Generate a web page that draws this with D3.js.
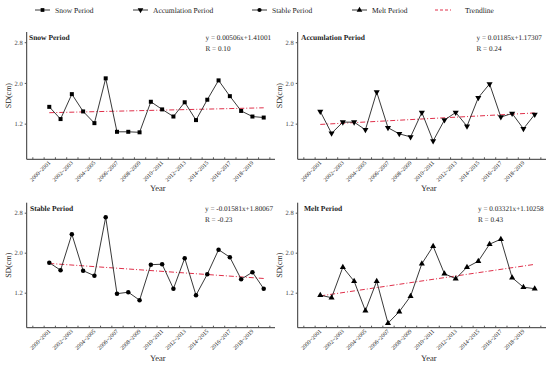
<!DOCTYPE html>
<html>
<head>
<meta charset="utf-8">
<script src="https://cdn.jsdelivr.net/npm/d3@7"></script>
<style>
  body { margin: 0; background: #fff; }
  svg text { font-family: "Liberation Serif", "Times New Roman", serif; fill: #222; text-rendering: geometricPrecision; }
  .tick text { fill: #444; }
  .title { font-weight: bold; }
</style>
</head>
<body>
<svg width="550" height="367"></svg>
<script>
// season labels, one per point (x = 1..20)
var years = ["2000~2001","2001~2002","2002~2003","2003~2004","2004~2005","2005~2006","2006~2007",
  "2007~2008","2008~2009","2009~2010","2010~2011","2011~2012","2012~2013","2013~2014",
  "2014~2015","2015~2016","2016~2017","2017~2018","2018~2019","2019~2020"];

var snow = [1.53,1.29,1.78,1.44,1.21,2.09,1.04,1.04,1.03,1.63,1.48,1.34,1.62,1.27,1.67,2.05,1.74,1.45,1.34,1.32];
var accum = [1.44,1.01,1.23,1.23,1.08,1.82,1.12,1.00,0.94,1.42,0.86,1.27,1.42,1.15,1.71,1.98,1.33,1.40,1.10,1.38];
var stable = [1.80,1.65,2.37,1.64,1.54,2.71,1.18,1.21,1.05,1.76,1.77,1.28,1.89,1.15,1.57,2.06,1.91,1.47,1.61,1.28];
var melt = [1.15,1.10,1.71,1.43,0.84,1.43,0.59,0.82,1.13,1.78,2.13,1.58,1.48,1.71,1.83,2.17,2.27,1.50,1.31,1.28];

var names = ["Snow Period", "Accumlation Period", "Stable Period", "Melt Period"];
var slopes = [0.00506, 0.01185, -0.01581, 0.03321];
var intercepts = [1.41001, 1.17307, 1.80067, 1.10258];
var equations = ["y = 0.00506x+1.41001", "y = 0.01185x+1.17307", "y = -0.01581x+1.80067", "y = 0.03321x+1.10258"];
var rLabels = ["R = 0.10", "R = 0.24", "R = -0.23", "R = 0.43"];
var yTicks = [1.2, 2.0, 2.8];

var series = [snow, accum, stable, melt];
var symbols = [d3.symbolSquare, d3.symbolTriangle, d3.symbolCircle, d3.symbolTriangle];
var symRot = [0, 180, 0, 0];

var svg = d3.select("svg");
var red = "#e0304a";

// panel boxes: axis positions, year label baseline, text offsets
var panels = [
  {x0: 26.7, x1: 275, y0: 32, y1: 159.3, yLab: 191, tx: 29, ex: 205.5},
  {x0: 297.7, x1: 546, y0: 32, y1: 159.3, yLab: 191, tx: 301, ex: 476.5},
  {x0: 26.7, x1: 275, y0: 202.7, y1: 327.7, yLab: 361, tx: 30, ex: 205},
  {x0: 297.7, x1: 546, y0: 202.7, y1: 327.7, yLab: 361, tx: 304, ex: 478}
];

panels.forEach(function(p, k) {
  var x = d3.scaleLinear().domain([-1, 21]).range([p.x0, p.x1]);
  var y = d3.scaleLinear().domain([0.5, 3.0]).range([p.y1, p.y0]);
  var g = svg.append("g");

  // y axis
  var ya = g.append("g").attr("transform", "translate(" + p.x0 + ",0)")
    .call(d3.axisLeft(y).tickValues(yTicks).tickFormat(d3.format(".1f")).tickSize(2).tickPadding(2));
  ya.select(".domain").attr("d", "M0," + p.y1 + "V" + p.y0).attr("stroke", "#333");
  ya.selectAll("text").attr("font-size", 6.5);
  ya.selectAll("line").attr("stroke", "#555");

  // x axis: ticks at band edges, labels every other season
  var edges = d3.range(-0.5, 21, 1);
  var xa = g.append("g").attr("transform", "translate(0," + p.y1 + ")")
    .call(d3.axisBottom(x).tickValues(edges).tickSize(-2).tickFormat(""));
  xa.select(".domain").attr("d", "M" + p.x0 + ",0H" + p.x1).attr("stroke", "#333");
  xa.selectAll("line").attr("stroke", "#555");

  g.selectAll(".xl").data(years.filter(function(d, i) { return i % 2 === 0 && i < 19; }))
    .enter().append("text")
    .attr("font-size", 5.8)
    .attr("fill", "#555")
    .attr("text-anchor", "end")
    .attr("transform", function(d) {
      var i = years.indexOf(d) + 1;
      return "translate(" + (x(i) + 1.5) + "," + (p.y1 + 4) + ") rotate(-45)";
    })
    .text(function(d) { return d; });

  // axis titles
  g.append("text").attr("font-size", 8).attr("text-anchor", "middle")
    .attr("transform", "translate(" + (p.x0 - 16) + "," + ((p.y0 + p.y1) / 2) + ") rotate(-90)")
    .text("SD(cm)");
  g.append("text").attr("font-size", 8.5).attr("text-anchor", "middle")
    .attr("x", (p.x0 + p.x1) / 2 + 7).attr("y", p.yLab).text("Year");

  // trendline
  g.append("line")
    .attr("x1", x(1)).attr("x2", x(20))
    .attr("y1", y(intercepts[k] + slopes[k] * 1))
    .attr("y2", y(intercepts[k] + slopes[k] * 20))
    .attr("stroke", red).attr("stroke-width", 1)
    .attr("stroke-dasharray", "5,2,1,2");

  // data line
  var data = series[k];
  g.append("path").datum(data)
    .attr("fill", "none").attr("stroke", "#222").attr("stroke-width", 0.9)
    .attr("d", d3.line().x(function(d, i) { return x(i + 1); }).y(function(d) { return y(d); }));

  g.selectAll(".pt").data(data).enter().append("path")
    .attr("d", d3.symbol().type(symbols[k]).size(16))
    .attr("fill", "#000")
    .attr("transform", function(d, i) {
      return "translate(" + x(i + 1) + "," + y(d) + ") rotate(" + symRot[k] + ")";
    });

  // titles and fit text
  g.append("text").attr("class", "title").attr("font-size", 7.5)
    .attr("x", p.tx).attr("y", p.y0 + 8).text(names[k]);
  g.append("text").attr("font-size", 7.2)
    .attr("x", p.ex).attr("y", p.y0 + 8).text(equations[k]);
  g.append("text").attr("font-size", 7.2)
    .attr("x", p.ex).attr("y", p.y0 + 19).text(rLabels[k]);
});

// legend
var legX = [35, 133, 252, 352];
var lg = svg.append("g");
names.forEach(function(n, k) {
  lg.append("line").attr("x1", legX[k]).attr("x2", legX[k] + 15)
    .attr("y1", 10).attr("y2", 10).attr("stroke", "#222").attr("stroke-width", 0.9);
  lg.append("path").attr("d", d3.symbol().type(symbols[k]).size(14))
    .attr("transform", "translate(" + (legX[k] + 7.5) + ",10) rotate(" + symRot[k] + ")")
    .attr("fill", "#000");
  lg.append("text").attr("x", legX[k] + 20).attr("y", 13).attr("font-size", 7.5).text(n);
});
lg.append("line").attr("x1", 435).attr("x2", 451).attr("y1", 10).attr("y2", 10)
  .attr("stroke", red).attr("stroke-width", 1).attr("stroke-dasharray", "3,2");
lg.append("text").attr("x", 465).attr("y", 13).attr("font-size", 7.5).text("Trendline");
</script>
</body>
</html>
